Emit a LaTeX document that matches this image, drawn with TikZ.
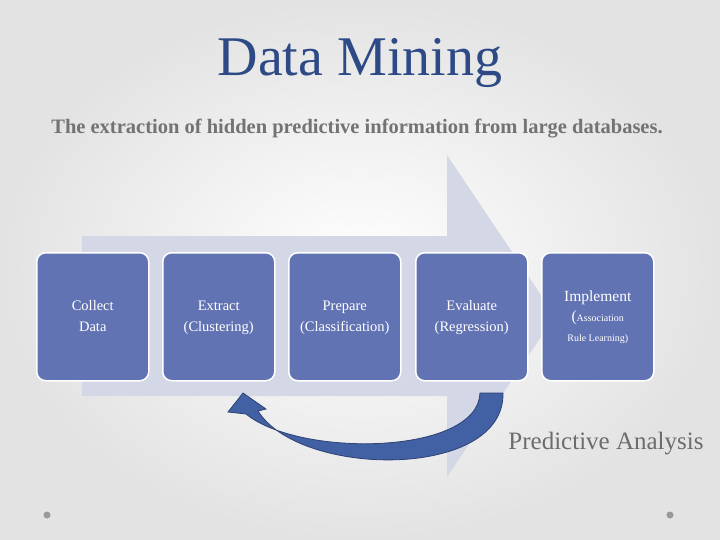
\documentclass[tikz,border=0pt]{standalone}
\usepackage{fontspec}
\setmainfont{Liberation Serif}
\definecolor{boxc}{HTML}{6273B3}
\definecolor{bigar}{HTML}{D3D7E6}
\definecolor{curv}{HTML}{4260A4}
\definecolor{titlec}{HTML}{2E4A86}
\begin{document}
\begin{tikzpicture}[x=1pt,y=-1pt,
  stepbox/.style={draw=white,line width=1.5pt,fill=boxc,rounded corners=9pt,minimum width=112pt,minimum height=128pt,text=white,align=center,font=\fontsize{14.5}{21}\selectfont,anchor=north west}]
\useasboundingbox (0,0) rectangle (720,540);
\shade[inner color=white,outer color=gray!22] (0,0) rectangle (720,540);
\fill[bigar] (82,236) -- (447,236) -- (447,155) -- (555,316) -- (447,477) -- (447,396) -- (82,396) -- cycle;
\node[stepbox] (b1) at (36,252) {\strut Collect\\\strut Data};
\node[stepbox] (b2) at (162,252) {\strut Extract\\\strut (Clustering)};
\node[stepbox] (b3) at (288,252) {\strut Prepare\\\strut (Classification)};
\node[stepbox] (b4) at (415,252) {\strut Evaluate\\\strut (Regression)};
\node[stepbox] (b5) at (541,252) {\fontsize{15.5}{22}\selectfont Implement\\[-1pt]{\fontsize{15.5}{18}\selectfont(}\fontsize{10}{12}\selectfont Association\\[-1pt]\fontsize{10}{12}\selectfont Rule Learning)};
\filldraw[fill=curv,draw=curv!70!black,line width=0.8pt] (480,393) -- (503,393) .. controls (505,480) and (300,478) .. (258,411) -- (266,409) -- (243,393) -- (228,412) -- (246,414) .. controls (300,458) and (478,455) .. (480,393) -- cycle;
\node[text=titlec,font=\fontsize{56}{60}\selectfont] (t) at (360,63) {Data Mining};
\node[text=gray!90!black,font=\bfseries\fontsize{20.5}{24}\selectfont] (s) at (357,129) {The extraction of hidden predictive information from large databases.};
\node[text=gray!85!black,font=\fontsize{25}{28}\selectfont] (p) at (606,444) {Predictive Analysis};
\fill[gray!80] (47,515) circle (3.5);
\fill[gray!80] (670,515) circle (3.5);
\end{tikzpicture}
\end{document}
